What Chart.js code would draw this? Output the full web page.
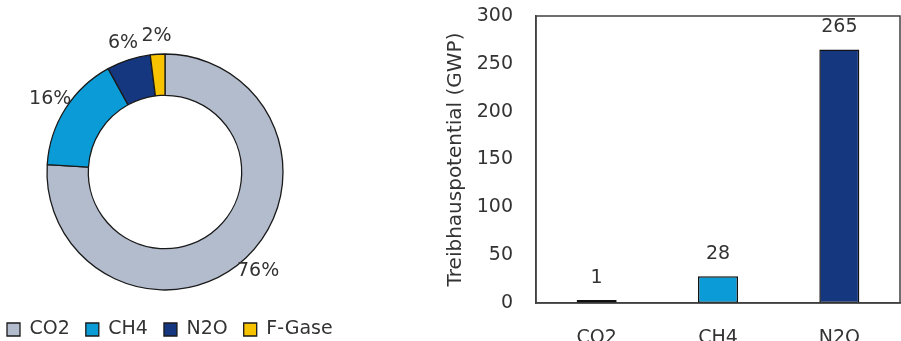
<!DOCTYPE html>
<html>
<head>
<meta charset="utf-8">
<script src="https://cdn.jsdelivr.net/npm/chart.js@4"></script>
<style>
  html, body { margin: 0; padding: 0; background: #fff; }
  body { width: 901px; height: 341px; position: relative; overflow: hidden; }
  #wrapDonut { position: absolute; left: -9px; top: 0; width: 358px; height: 349px; }
  #wrapBar { position: absolute; left: 430px; top: 0; width: 471px; height: 341px; }
</style>
</head>
<body>
<div id="wrapDonut"><canvas id="anteilChart"></canvas></div>
<div id="wrapBar"><canvas id="gwpChart"></canvas></div>
<script>
// Colori
const colors = {
  co2: "#b3bccd",
  ch4: "#0b9bd7",
  n2o: "#15377f",
  fgase: "#f7c200",
  text: "#333333",
  frame: "#404040",
};

// Dati: quota delle emissioni (%)
const gasLabels = ["CO2", "CH4", "N2O", "F-Gase"];
const gasShares = [76, 16, 6, 2];
const gasColors = [colors.co2, colors.ch4, colors.n2o, colors.fgase];

// Dati: potenziale di riscaldamento (GWP)
const gwpLabels = ["CO2", "CH4", "N2O"];
const gwpValues = [1, 28, 265];
const gwpColors = [colors.co2, colors.ch4, colors.n2o];
const gwpTicks = [0, 50, 100, 150, 200, 250, 300];

const fontFamily = "'DejaVu Sans', sans-serif";
Chart.defaults.font.family = fontFamily;
Chart.defaults.color = colors.text;

// ✅ Sposta un po' l'anello a sinistra rispetto alla legenda
const donutShift = {
  id: "donutShift",
  afterLayout(chart) {
    chart.chartArea.right -= 10;
    chart.chartArea.width -= 10;
  },
};

// ✅ Etichette percentuali fuori dall'anello
const donutLabels = {
  id: "donutLabels",
  afterDatasetsDraw(chart) {
    const ctx = chart.ctx;
    const meta = chart.getDatasetMeta(0);
    ctx.save();
    ctx.font = "19px " + fontFamily;
    ctx.fillStyle = colors.text;
    ctx.textAlign = "center";
    ctx.textBaseline = "middle";
    meta.data.forEach((arc, i) => {
      const mid = (arc.startAngle + arc.endAngle) / 2;
      const r = arc.outerRadius + 18;
      ctx.fillText(gasShares[i] + "%", arc.x + Math.cos(mid) * r, arc.y + Math.sin(mid) * r);
    });
    ctx.restore();
  },
};

// ✅ Valori sopra le barre + cornice
const barLabels = {
  id: "barLabels",
  afterDatasetsDraw(chart) {
    const ctx = chart.ctx;
    const meta = chart.getDatasetMeta(0);
    ctx.save();
    ctx.font = "19px " + fontFamily;
    ctx.fillStyle = colors.text;
    ctx.textAlign = "center";
    ctx.textBaseline = "middle";
    meta.data.forEach((bar, i) => {
      ctx.fillText(String(gwpValues[i]), bar.x, bar.y - 22);
    });
    const a = chart.chartArea;
    ctx.strokeStyle = colors.frame;
    ctx.lineWidth = 1.5;
    ctx.strokeRect(a.left, a.top, a.right - a.left, a.bottom - a.top);
    ctx.restore();
  },
};

new Chart(document.getElementById("anteilChart"), {
  type: "doughnut",
  data: {
    labels: gasLabels,
    datasets: [{
      data: gasShares,
      backgroundColor: gasColors,
      borderColor: "#1a1a1a",
      borderWidth: 1.3,
      radius: 118,
    }],
  },
  options: {
    responsive: true,
    maintainAspectRatio: false,
    animation: false,
    cutout: "65%",
    layout: { padding: { top: 40 } },
    plugins: {
      legend: {
        position: "bottom",
        align: "start",
        labels: {
          boxWidth: 13,
          boxHeight: 13,
          padding: 16,
          color: colors.text,
          font: { size: 19 },
        },
      },
      tooltip: { enabled: false },
    },
  },
  plugins: [donutShift, donutLabels],
});

new Chart(document.getElementById("gwpChart"), {
  type: "bar",
  data: {
    labels: gwpLabels,
    datasets: [{
      data: gwpValues,
      backgroundColor: gwpColors,
      borderColor: "#111111",
      borderWidth: 1.5,
      borderSkipped: false,
      minBarLength: 3,
      barPercentage: 0.33,
      categoryPercentage: 1,
    }],
  },
  options: {
    responsive: true,
    maintainAspectRatio: false,
    animation: false,
    layout: { padding: { top: 16, right: 1, left: 0, bottom: 0 } },
    scales: {
      y: {
        min: 0,
        max: 300,
        afterBuildTicks: (s) => { s.ticks = gwpTicks.map((v) => ({ value: v })); },
        afterFit: (s) => { s.width = 106; },
        grid: { display: false, drawTicks: true, tickLength: 23 },
        border: { display: true, color: colors.frame, width: 1.5 },
        ticks: { padding: 0, color: colors.text, font: { size: 19 } },
        title: {
          display: true,
          text: "Treibhauspotential (GWP)",
          color: colors.text,
          font: { size: 20 },
          padding: { top: 14, bottom: 0 },
        },
      },
      x: {
        afterFit: (s) => { s.height = 38; },
        grid: { display: false, drawTicks: false },
        border: { display: true, color: colors.frame, width: 1.5 },
        ticks: { padding: 24, color: colors.text, font: { size: 19 } },
      },
    },
    plugins: {
      legend: { display: false },
      tooltip: { enabled: false },
    },
  },
  plugins: [barLabels],
});
</script>
</body>
</html>
